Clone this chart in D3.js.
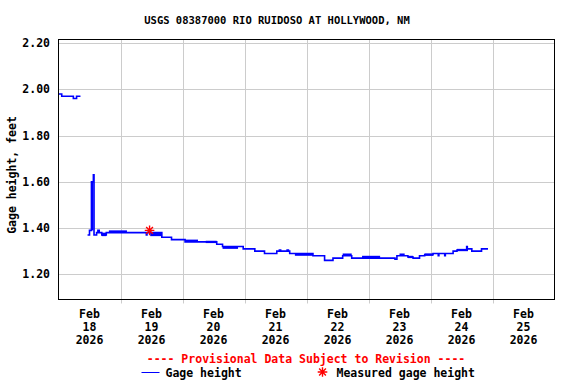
<!DOCTYPE html>
<html lang="en">
<head>
	<meta charset="utf-8">
	<title>USGS 08387000 Rio Ruidoso at Hollywood, NM</title>
	<script src='https://d3js.org/d3.v7.min.js'></script>
	<style>
		body {margin:0; background:#fff;}
		text {font-family:'DejaVu Sans Mono', monospace; font-weight:bold;}
	</style>
</head>
<body>
	<div id="chart"></div>
	<script>
		// gage height, hours after Feb 18 2026 00:00 (null = gap in record)
		const gageHours  = [0, 1.25, 5.75, 7, 8.5, 10,
			11.25, 12, 12.75, 13.5, 13.75, 14.75, 15.25, 15.75, 16.75, 18.5, 34, 34.25, 40, 43.75,
			49, 61.25, 63.5, 69.5, 71.5, 76, 79.75, 84.5, 85.5, 86, 88.5, 89, 89.5, 98.5, 103,
			106.25, 110, 113.5, 130.25, 131, 135.25, 137.25, 139.75, 141.75, 145, 147, 147.25,
			149.5, 149.75, 152.75, 154.25, 158, 158.25, 160, 163.75, 166.25];
		const gageValues = [1.98, 1.97, 1.96, 1.97, 1.97, null,
			1.37, 1.39, 1.60, 1.63, 1.37, 1.38, 1.39, 1.38, 1.37, 1.38, 1.37, 1.38, 1.36, 1.35,
			1.34, 1.33, 1.32, 1.32, 1.31, 1.30, 1.29, 1.30, 1.305, 1.30, 1.305, 1.30, 1.29, 1.28, 1.26,
			1.27, 1.28, 1.27, 1.265, 1.28, 1.275, 1.27, 1.28, 1.285, 1.29, 1.28, 1.29,
			1.28, 1.29, 1.30, 1.305, 1.32, 1.31, 1.30, 1.31, 1.31];
		// stretches where the reading flickers between two levels
		const bandStart = [12.75, 16.75, 19.5, 35.5, 49, 57, 63.5, 91.5, 110, 117.5, 132, 135.25, 141.75, 154.25];
		const bandEnd   = [13.5, 18.5, 26.5, 40, 54, 61.25, 69.5, 98.5, 113.5, 124.5, 134, 137.25, 145, 158.5];
		const bandLow   = [1.39, 1.365, 1.38, 1.365, 1.34, 1.335, 1.31, 1.28, 1.28, 1.27, 1.28, 1.27, 1.28, 1.30];
		const bandHigh  = [1.60, 1.38, 1.39, 1.38, 1.35, 1.345, 1.32, 1.29, 1.29, 1.28, 1.29, 1.28, 1.29, 1.31];
		// field measurement
		const measHours  = [35.25];
		const measValues = [1.39];
		// axis labels
		const yTicks = [1.20, 1.40, 1.60, 1.80, 2.00, 2.20];
		const dayLabels = ["18", "19", "20", "21", "22", "23", "24", "25"];
		const monthLabel = "Feb";
		const yearLabel = "2026";

		const width = 576, height = 384;
		const plot = {left:58.5, right:554.5, top:39.5, bottom:299.5};

		var svg = d3.select("#chart")
					.append("svg")
					.attr("width", width)
					.attr("height", height);

		var x = d3.scaleLinear().domain([0, 192]).range([plot.left, plot.right]);
		var y = d3.scaleLinear().domain([1.091, 2.2154]).range([plot.bottom, plot.top]);

		// gridlines
		svg.append("g").selectAll("line")
			.data(d3.range(1, 8))
			.enter().append("line")
			.attr("x1", function (d) { return Math.round(x(d * 24)) + 0.5; })
			.attr("x2", function (d) { return Math.round(x(d * 24)) + 0.5; })
			.attr("y1", plot.top).attr("y2", plot.bottom + 4)
			.attr("stroke", "#cccccc");
		svg.append("g").selectAll("line")
			.data(yTicks)
			.enter().append("line")
			.attr("x1", plot.left).attr("x2", plot.right)
			.attr("y1", function (d) { return Math.round(y(d)) + 0.5; })
			.attr("y2", function (d) { return Math.round(y(d)) + 0.5; })
			.attr("stroke", "#cccccc");

		// flicker bands
		svg.append("g").selectAll("rect")
			.data(bandStart)
			.enter().append("rect")
			.attr("x", function (d) { return x(d); })
			.attr("width", function (d, i) { return x(bandEnd[i]) - x(d); })
			.attr("y", function (d, i) { return y(bandHigh[i]); })
			.attr("height", function (d, i) { return y(bandLow[i]) - y(bandHigh[i]); })
			.attr("fill", "#0000ff");

		// gage height line
		var pts = gageHours.map(function (h, i) { return [h, gageValues[i]]; });
		var line = d3.line()
					.defined(function (d) { return d[1] !== null; })
					.x(function (d) { return x(d[0]); })
					.y(function (d) { return y(d[1]); })
					.curve(d3.curveStepAfter);
		svg.append("path")
			.datum(pts)
			.attr("d", line)
			.attr("fill", "none")
			.attr("stroke", "#0000ff")
			.attr("stroke-width", 1.6);

		// asterisk marker
		function star(g, cx, cy, r) {
			var p = "";
			[0, 45, 90, 135].forEach(function (a) {
				var dx = r * Math.cos(a * Math.PI / 180), dy = r * Math.sin(a * Math.PI / 180);
				p += "M" + (cx - dx) + "," + (cy - dy) + "L" + (cx + dx) + "," + (cy + dy);
			});
			g.append("path").attr("d", p).attr("stroke", "#ff0000").attr("stroke-width", 1.4);
		}
		measHours.forEach(function (h, i) { star(svg, x(h), y(measValues[i]), 4.8); });

		// frame
		svg.append("rect")
			.attr("x", plot.left).attr("y", plot.top)
			.attr("width", plot.right - plot.left).attr("height", plot.bottom - plot.top)
			.attr("fill", "none").attr("stroke", "#000");

		// y tick labels
		svg.append("g").selectAll("text")
			.data(yTicks)
			.enter().append("text")
			.attr("x", 50)
			.attr("y", function (d) { return y(d); })
			.attr("dy", "0.35em")
			.style("text-anchor", "end")
			.style("font-size", "11.5px")
			.text(function (d) { return d.toFixed(2); });

		// x labels centred on noon of each day
		var xl = svg.append("g").selectAll("text")
			.data(dayLabels)
			.enter().append("text")
			.attr("x", function (d, i) { return x(i * 24 + 12); })
			.attr("y", 318)
			.style("text-anchor", "middle")
			.style("font-size", "11.5px");
		xl.append("tspan").attr("x", function (d, i) { return x(i * 24 + 12); }).text(monthLabel);
		xl.append("tspan").attr("x", function (d, i) { return x(i * 24 + 12); }).attr("dy", 13).text(function (d) { return d; });
		xl.append("tspan").attr("x", function (d, i) { return x(i * 24 + 12); }).attr("dy", 13).text(yearLabel);

		// title and axis name
		svg.append("text")
			.attr("x", 277).attr("y", 24)
			.style("text-anchor", "middle")
			.style("font-size", "10.5px")
			.text("USGS 08387000 RIO RUIDOSO AT HOLLYWOOD, NM");
		svg.append("text")
			.attr("transform", "translate(16,175) rotate(-90)")
			.style("text-anchor", "middle")
			.style("font-size", "11.5px")
			.text("Gage height, feet");

		// footer and legend
		svg.append("text")
			.attr("x", 306).attr("y", 363)
			.style("text-anchor", "middle")
			.style("font-size", "11.5px")
			.attr("fill", "#ff0000")
			.text("---- Provisional Data Subject to Revision ----");
		svg.append("line")
			.attr("x1", 141.5).attr("x2", 159.5)
			.attr("y1", 372.5).attr("y2", 372.5)
			.attr("stroke", "#0000ff");
		svg.append("text")
			.attr("x", 165.5).attr("y", 377)
			.style("font-size", "11.5px")
			.text("Gage height");
		star(svg, 322.5, 372, 4.8);
		svg.append("text")
			.attr("x", 336.5).attr("y", 377)
			.style("font-size", "11.5px")
			.text("Measured gage height");
	</script>
</body>
</html>
